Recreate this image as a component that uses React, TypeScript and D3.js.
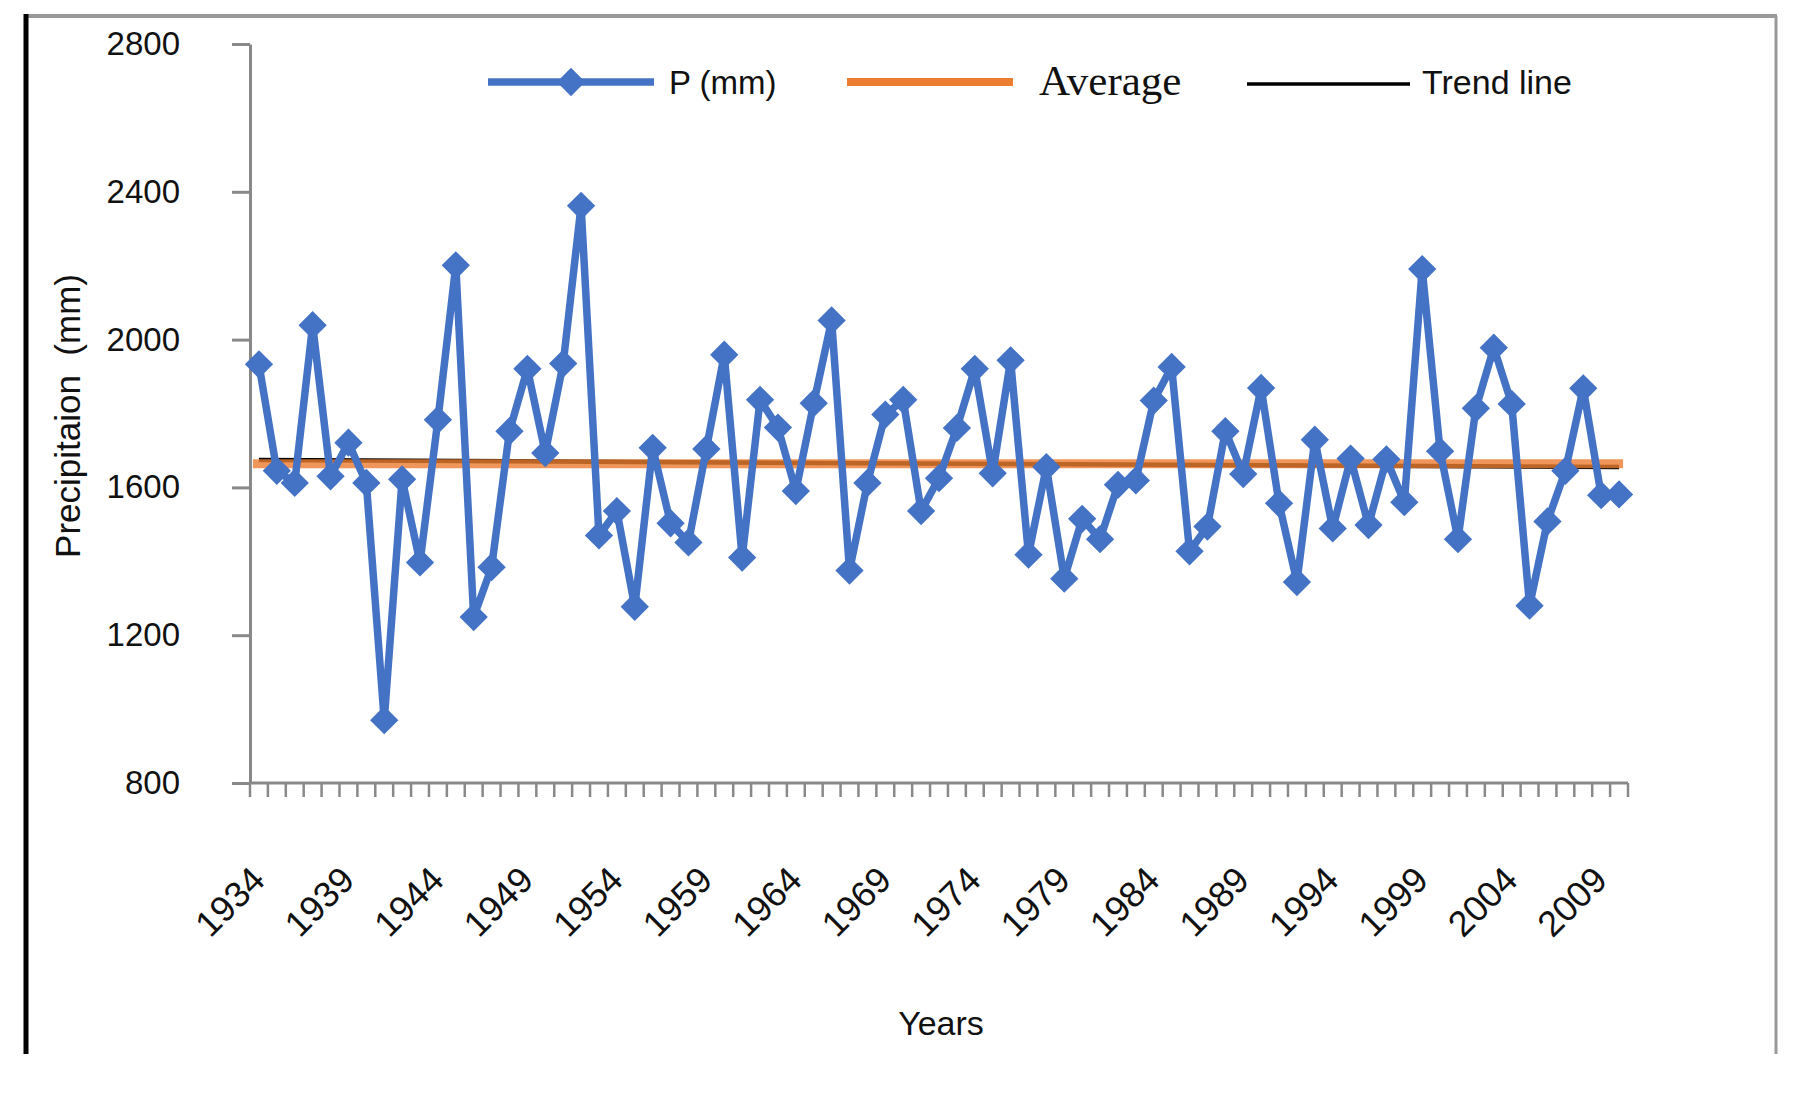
import { useEffect, useRef } from "react";
import * as d3 from "d3";

// annual precipitation, 1934-2010
const years = d3.range(1934, 2011);
const precip = [
  1933, 1645, 1612, 2039, 1630, 1721, 1612, 970, 1622, 1397,
  1783, 2201, 1249, 1384, 1752, 1921, 1693, 1935, 2362, 1470,
  1536, 1277, 1707, 1503, 1451, 1704, 1959, 1410, 1837, 1762,
  1590, 1828, 2052, 1375, 1612, 1797, 1837, 1536, 1625, 1761,
  1921, 1638, 1944, 1418, 1655, 1353, 1515, 1460, 1607, 1619,
  1835, 1926, 1427, 1494, 1752, 1636, 1869, 1557, 1344, 1729,
  1489, 1678, 1498, 1676, 1560, 2191, 1698, 1460, 1814, 1978,
  1826, 1280, 1508, 1645, 1868, 1579, 1581,
];
const yTicks = [800, 1200, 1600, 2000, 2400, 2800];
const labelYears = [1934, 1939, 1944, 1949, 1954, 1959, 1964, 1969, 1974, 1979, 1984, 1989, 1994, 1999, 2004, 2009];
const trendEnds = [1674, 1655]; // trend line value at first and last year

const BLUE = "#4472c4";
const ORANGE = "#ed7d31";
const GREY = "#898989";
const SANS = "'Liberation Sans', Arial, sans-serif";

export default function App() {
  const svgRef = useRef<SVGSVGElement>(null);

  useEffect(() => {
    if (!svgRef.current) return;
    const width = 1799;
    const height = 1093;
    const svg = d3.select(svgRef.current);
    svg.selectAll("*").remove();
    svg.attr("viewBox", `0 0 ${width} ${height}`);

    const x = d3.scaleBand<number>().domain(years).range([250, 1628]);
    const y = d3.scaleLinear().domain([800, 2800]).range([783, 44]);
    const cx = (d: number) => x(d)! + x.bandwidth() / 2;

    // frame
    svg.append("line").attr("x1", 26).attr("x2", 1777).attr("y1", 16).attr("y2", 16)
      .attr("stroke", "#999").attr("stroke-width", 4);
    svg.append("line").attr("x1", 1776).attr("x2", 1776).attr("y1", 16).attr("y2", 1054)
      .attr("stroke", "#999").attr("stroke-width", 3);
    svg.append("line").attr("x1", 26).attr("x2", 26).attr("y1", 14).attr("y2", 1054)
      .attr("stroke", "#000").attr("stroke-width", 5);

    // Y axis
    const yAxis = svg.append("g")
      .attr("transform", "translate(250,0)")
      .call(d3.axisLeft(y).tickValues(yTicks).tickSize(18).tickSizeOuter(0).tickPadding(52).tickFormat(d3.format("d")));
    yAxis.select(".domain").attr("stroke", GREY).attr("stroke-width", 3);
    yAxis.selectAll(".tick line").attr("stroke", GREY).attr("stroke-width", 3);
    yAxis.selectAll(".tick text").attr("font-family", SANS).attr("font-size", 33).attr("fill", "#111");

    // X axis (category axis, ticks between categories)
    svg.append("line").attr("x1", 250).attr("x2", 1628).attr("y1", 783).attr("y2", 783)
      .attr("stroke", GREY).attr("stroke-width", 3);
    const bounds = [...years.map(d => x(d)!), x.range()[1]];
    svg.append("g").selectAll("line").data(bounds).join("line")
      .attr("x1", d => d).attr("x2", d => d).attr("y1", 783).attr("y2", 797)
      .attr("stroke", GREY).attr("stroke-width", 2.5);
    svg.append("g").selectAll("text").data(labelYears).join("text")
      .attr("transform", d => `translate(${cx(d) + 8},882) rotate(-45)`)
      .attr("text-anchor", "end")
      .attr("font-family", SANS).attr("font-size", 36).attr("fill", "#111")
      .text(d => d);

    // axis titles
    svg.append("text")
      .attr("transform", "translate(80,416) rotate(-90)")
      .attr("text-anchor", "middle")
      .attr("font-family", SANS).attr("font-size", 35).attr("fill", "#111")
      .style("white-space", "pre")
      .text("Precipitaion  (mm)");
    svg.append("text")
      .attr("x", 941).attr("y", 1035)
      .attr("text-anchor", "middle")
      .attr("font-family", SANS).attr("font-size", 34).attr("fill", "#111")
      .text("Years");

    // trend + average
    const first = years[0];
    const last = years[years.length - 1];
    svg.append("line")
      .attr("x1", cx(first)).attr("x2", cx(last))
      .attr("y1", y(trendEnds[0])).attr("y2", y(trendEnds[1]))
      .attr("stroke", "#000").attr("stroke-width", 4.5);
    const avg = d3.mean(precip)!;
    svg.append("line")
      .attr("x1", cx(first) - 6).attr("x2", cx(last) + 4)
      .attr("y1", y(avg)).attr("y2", y(avg))
      .attr("stroke", ORANGE).attr("stroke-width", 9).attr("opacity", 0.8);

    // precipitation series
    const line = d3.line<number>().x((_, i) => cx(years[i])).y(d => y(d));
    svg.append("path").datum(precip)
      .attr("d", line)
      .attr("fill", "none").attr("stroke", BLUE).attr("stroke-width", 7.5)
      .attr("stroke-linejoin", "round");
    const diamond = d3.symbol(d3.symbolSquare, 400)();
    svg.append("g").selectAll("path").data(precip).join("path")
      .attr("d", diamond)
      .attr("transform", (d, i) => `translate(${cx(years[i])},${y(d)}) rotate(45)`)
      .attr("fill", BLUE);

    // legend
    const ly = 82;
    const legend = svg.append("g");
    legend.append("line").attr("x1", 488).attr("x2", 654).attr("y1", ly).attr("y2", ly)
      .attr("stroke", BLUE).attr("stroke-width", 7.5);
    legend.append("path").attr("d", diamond).attr("transform", `translate(571,${ly}) rotate(45)`).attr("fill", BLUE);
    legend.append("text").attr("x", 669).attr("y", ly).attr("dy", "0.36em")
      .attr("font-family", SANS).attr("font-size", 33).attr("fill", "#111").text("P (mm)");
    legend.append("line").attr("x1", 847).attr("x2", 1013).attr("y1", ly).attr("y2", ly)
      .attr("stroke", ORANGE).attr("stroke-width", 8);
    legend.append("text").attr("x", 1039).attr("y", ly).attr("dy", "0.3em")
      .attr("font-family", "'Liberation Serif', 'Times New Roman', serif").attr("font-size", 43)
      .attr("fill", "#111").text("Average");
    legend.append("line").attr("x1", 1247).attr("x2", 1410).attr("y1", ly + 2).attr("y2", ly + 2)
      .attr("stroke", "#000").attr("stroke-width", 3.5);
    legend.append("text").attr("x", 1422).attr("y", ly).attr("dy", "0.36em")
      .attr("font-family", SANS).attr("font-size", 34).attr("fill", "#111").text("Trend line");
  }, []);

  return (
    <svg
      ref={svgRef}
      width={1799}
      height={1093}
      style={{ position: "absolute", top: 0, left: 0, background: "#fff" }}
    />
  );
}
